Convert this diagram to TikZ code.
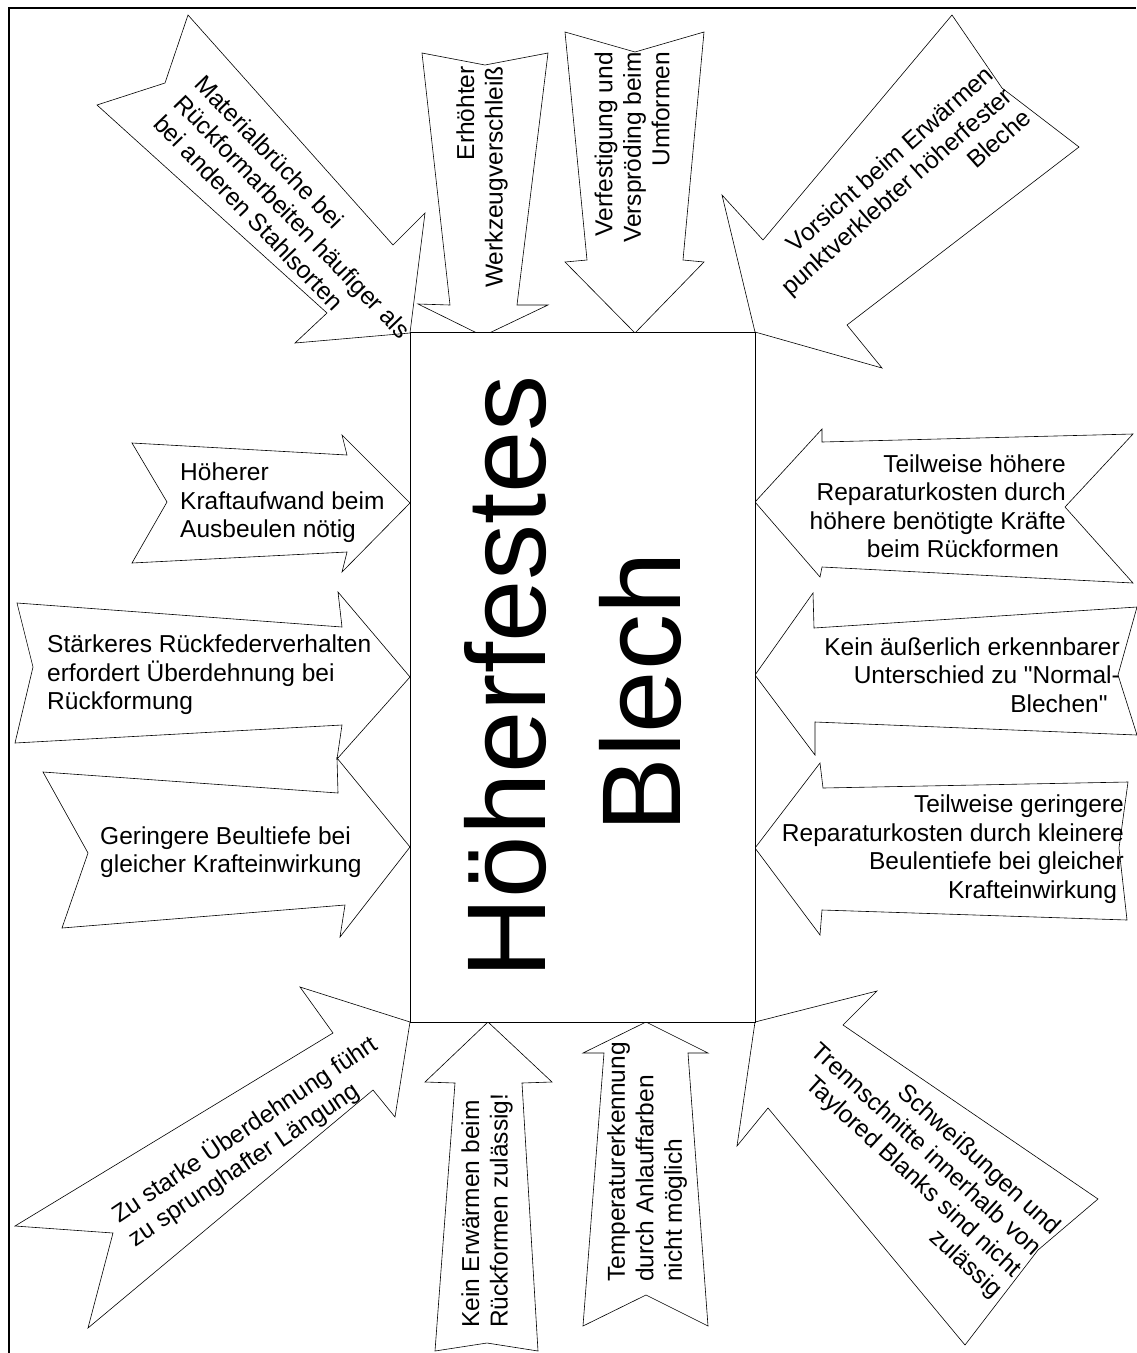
\documentclass[tikz,border=0pt]{standalone}
\usepackage{fontspec}
\setmainfont{Liberation Sans}
\begin{document}
\begin{tikzpicture}[x=1pt, y=-1pt,
        pfeil/.style={draw=black, fill=white, line width=0.6pt},
        txt/.style={inner sep=0pt, font=\fontsize{24.5}{28.5}\selectfont}]
        \useasboundingbox (0,0) rectangle (1136,1353);
        \draw[line width=2pt] (9,1353) -- (9,8) -- (1136,8);

        \filldraw[pfeil] (188,15) -- (393,245) -- (425,213) -- (410,333) -- (295,343) -- (327,313) -- (97,105) -- (165,83) -- cycle;
        \filldraw[pfeil] (422,53) -- (485,65) -- (548,53) -- (517,305) -- (548,305) -- (483,336) -- (418,304) -- (450,305) -- cycle;
        \filldraw[pfeil] (565,32) -- (635,52) -- (704,32) -- (683,260) -- (704,262) -- (635,333) -- (565,262) -- (587,260) -- cycle;
        \filldraw[pfeil] (952,15) -- (1002,88) -- (1079,147) -- (847,325) -- (882,368) -- (755,332) -- (722,195) -- (763,240) -- cycle;
        \filldraw[pfeil] (132,443) -- (347,455) -- (342,435) -- (410,503) -- (342,572) -- (347,552) -- (132,563) -- (167,502) -- cycle;
        \filldraw[pfeil] (17,603) -- (342,627) -- (338,592) -- (410,677) -- (337,759) -- (342,725) -- (15,743) -- (33,667) -- cycle;
        \filldraw[pfeil] (43,772) -- (338,793) -- (337,758) -- (410,847) -- (340,937) -- (345,905) -- (62,928) -- (88,853) -- cycle;
        \filldraw[pfeil] (755,502) -- (822,429) -- (822,442) -- (1133,434) -- (1065,507) -- (1133,583) -- (822,567) -- (820,577) -- cycle;
        \filldraw[pfeil] (755,675) -- (813,593) -- (814,628) -- (1137,607) -- (1118,675) -- (1137,735) -- (815,722) -- (815,755) -- cycle;
        \filldraw[pfeil] (755,848) -- (820,763) -- (823,788) -- (1128,782) -- (1119,848) -- (1127,920) -- (822,910) -- (820,935) -- cycle;
        \filldraw[pfeil] (410,1022) -- (300,987) -- (333,1033) -- (15,1226) -- (113,1233) -- (88,1328) -- (373,1090) -- (395,1117) -- cycle;
        \filldraw[pfeil] (488,1022) -- (552,1082) -- (522,1083) -- (538,1351) -- (487,1343) -- (435,1351) -- (455,1083) -- (425,1082) -- cycle;
        \filldraw[pfeil] (646,1022) -- (708,1053) -- (688,1053) -- (708,1326) -- (646,1295) -- (583,1326) -- (604,1053) -- (583,1053) -- cycle;
        \filldraw[pfeil] (755,1022) -- (877,991) -- (843,1025) -- (1098,1199) -- (1038,1250) -- (965,1345) -- (768,1108) -- (737,1146) -- cycle;

        \node[txt, rotate=-46, anchor=west, align=left] (material) at (179,99) {Materialbrüche bei\\Rückformarbeiten häufiger als\\bei anderen Stahlsorten};
        \node[txt, rotate=90, anchor=east, align=right] (werkzeug) at (482,66) {Erhöhter\\Werkzeugverschleiß};
        \node[txt, rotate=90, anchor=east, align=right] (verfestigung) at (632,52) {Verfestigung und\\Verspröding beim\\Umformen};
        \node[txt, rotate=41.5, anchor=east, align=right] (vorsicht) at (1008,92) {Vorsicht beim Erwärmen\\punktverklebter höherfester\\Bleche};
        \node[txt, anchor=west, align=left] (kraftaufwand) at (180,503) {Höherer\\Kraftaufwand beim\\Ausbeulen nötig};
        \node[txt, anchor=west, align=left] (rueckfeder) at (47,675) {Stärkeres Rückfederverhalten\\erfordert Überdehnung bei\\Rückformung};
        \node[txt, anchor=west, align=left] (beultiefe) at (100,852) {Geringere Beultiefe bei\\gleicher Krafteinwirkung};
        \node[txt, anchor=east, align=right] (kostenhoch) at (1066,506) {Teilweise höhere\\Reparaturkosten durch\\höhere benötigte Kräfte\\beim Rückformen\hspace*{.28em}};
        \node[txt, anchor=east, align=right] (unterschied) at (1120,675) {Kein äußerlich erkennbarer\\Unterschied zu \textquotedbl Normal-\\Blechen\textquotedbl\hspace*{.5em}};
        \node[txt, anchor=east, align=right] (kostengering) at (1124,849) {Teilweise geringere\\Reparaturkosten durch kleinere\\Beulentiefe bei gleicher\\Krafteinwirkung\hspace*{.28em}};
        \node[txt, rotate=34, anchor=west, align=left] (ueberdehnung) at (123,1229) {Zu starke Überdehnung führt\\zu sprunghafter Längung};
        \node[txt, rotate=90, anchor=west, align=left] (erwaermen) at (487,1328) {Kein Erwärmen beim\\Rückformen zulässig!};
        \node[txt, rotate=90, anchor=west, align=left] (temperatur) at (647,1282) {Temperaturerkennung\\durch Anlauffarben\\nicht möglich};
        \node[txt, rotate=-42.5, anchor=east, align=right] (schweissen) at (1027,1263) {Schweißungen und\\Trennschnitte innerhalb von\\Taylored Blanks sind nicht\\zulässig};

        \filldraw[fill=white, draw=black, line width=0.8pt] (410,332) rectangle (755,1022);
        \node[inner sep=0pt, rotate=90, align=center, font=\fontsize{112}{135}\selectfont] (blech) at (573,677) {Höherfestes\\Blech\hspace*{.278em}};
    \end{tikzpicture}
\end{document}
